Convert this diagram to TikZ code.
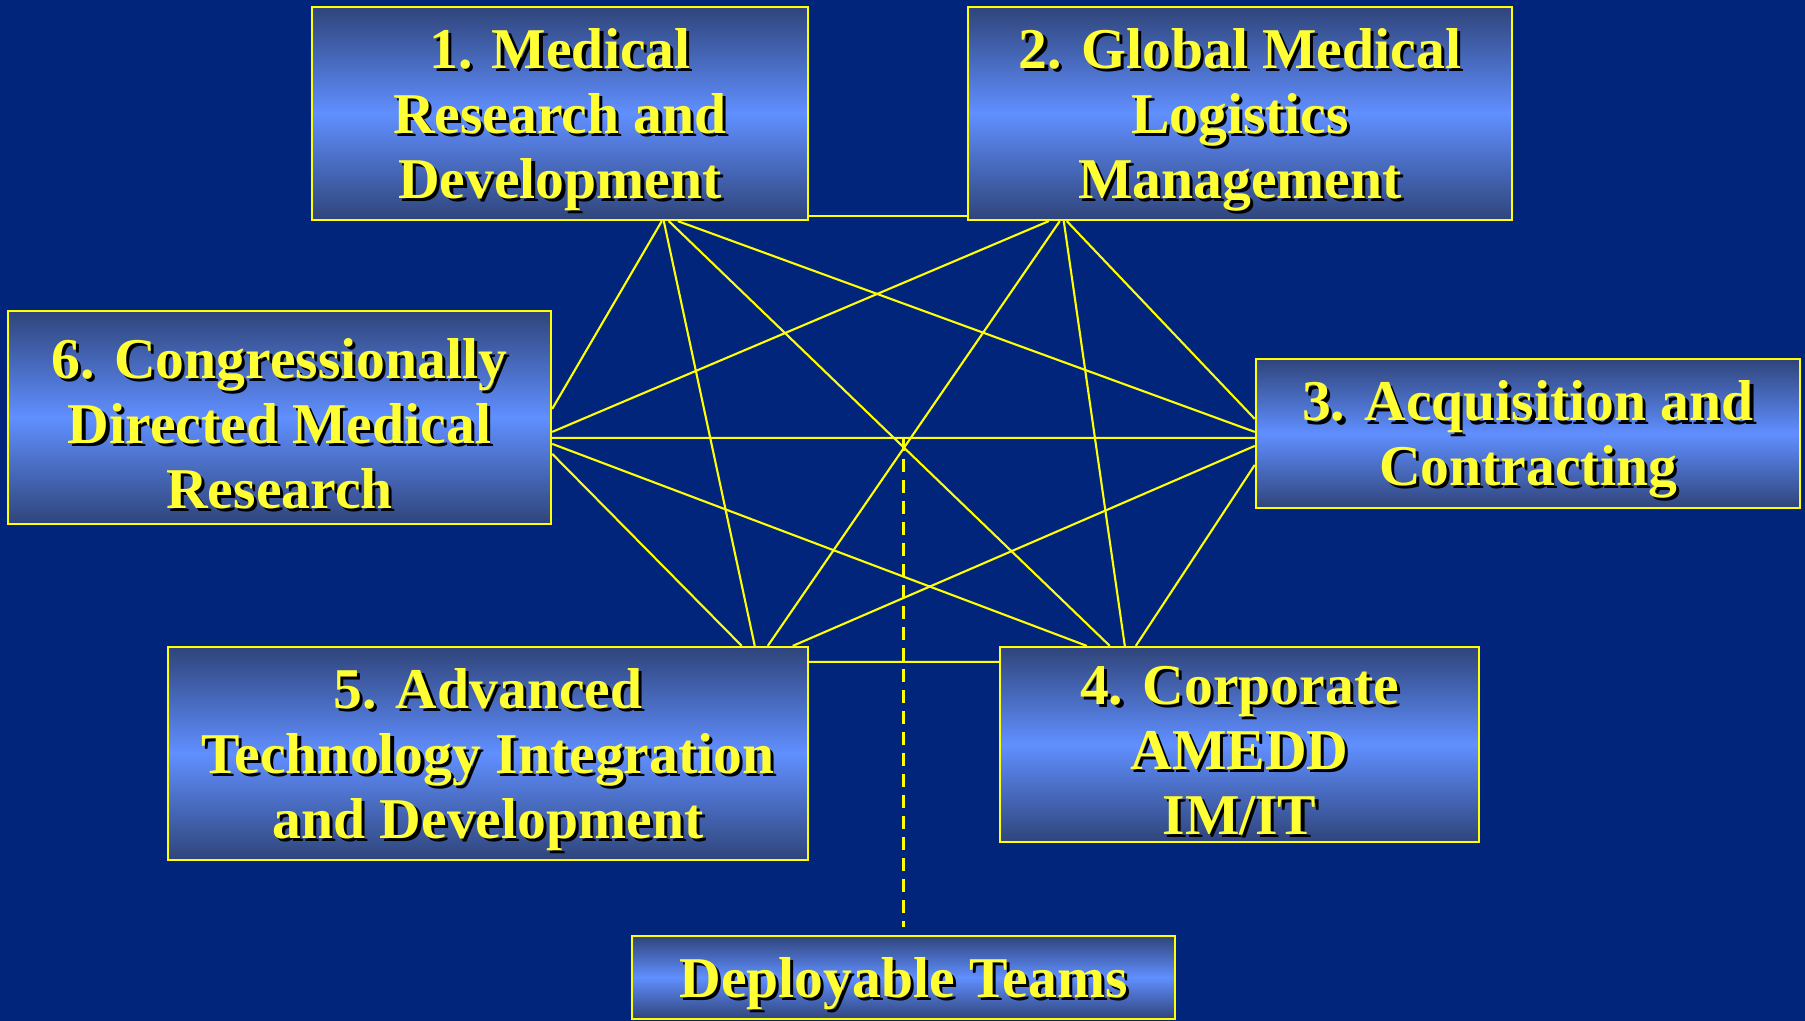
\documentclass[tikz,border=0pt]{standalone}
\usepackage{fontspec}
\setmainfont{Liberation Serif}
\usetikzlibrary{calc}

\definecolor{navybg}{RGB}{0,37,122}
\definecolor{boxdark}{RGB}{47,68,122}
\definecolor{boxlight}{RGB}{96,143,255}
\definecolor{linkyellow}{RGB}{255,255,0}
\definecolor{textyellow}{RGB}{255,255,51}

\newcommand\dropshd[1]{\raisebox{-2.2pt}[\height][\depth]{\rlap{\kern0.9pt\raisebox{-0.9pt}{\color{black}#1}}#1}}

\begin{document}
\begin{tikzpicture}[x=0.01cm,y=-0.01cm,
		area/.style={draw=linkyellow,line width=0.6pt,top color=boxdark,bottom color=boxdark,middle color=boxlight,
			text=textyellow,font=\bfseries\fontsize{16.4}{18.4}\selectfont,align=center,inner sep=0pt},
		link/.style={draw=linkyellow,line width=0.6pt},
		teamlink/.style={draw=linkyellow,line width=0.6pt,dash pattern=on 0.13cm off 0.08cm}]
		\fill[navybg] (0,0) rectangle (1805,1021);
		\draw (560,113.5) node [area,minimum width=4.96cm,minimum height=2.13cm] (b1) {\dropshd{1. Medical}\\\dropshd{Research and}\\\dropshd{Development}};
		\draw (1240,113.5) node [area,minimum width=5.44cm,minimum height=2.13cm] (b2) {\dropshd{2. Global Medical}\\\dropshd{Logistics}\\\dropshd{Management}};
		\draw (1528,433.5) node [area,minimum width=5.44cm,minimum height=1.49cm] (b3) {\dropshd{3. Acquisition and}\\\dropshd{Contracting}};
		\draw (1239.5,744.5) node [area,minimum width=4.79cm,minimum height=1.95cm] (b4) {\dropshd{4. Corporate}\\\dropshd{AMEDD}\\\dropshd{IM/IT}};
		\draw (488,753.5) node [area,minimum width=6.40cm,minimum height=2.13cm] (b5) {\dropshd{5. Advanced}\\\dropshd{Technology Integration}\\\dropshd{and Development}};
		\draw (279.5,417.5) node [area,minimum width=5.43cm,minimum height=2.13cm] (b6) {\dropshd{6. Congressionally}\\\dropshd{Directed Medical}\\\dropshd{Research}};
		\draw (903.5,977.5) node [area,minimum width=5.43cm,minimum height=0.83cm] (teams) {\dropshd{Deployable Teams}};
		\path[link]
			($(b1.south east)+(0,-5)$) edge ($(b2.south west)+(0,-5)$)
			($(b1.south west)+(351,0)$) edge ($(b6.north east)+(0,99)$)
			($(b1.south west)+(353,0)$) edge ($(b5.north west)+(588,0)$)
			($(b1.south west)+(358,0)$) edge ($(b4.north west)+(111,0)$)
			($(b1.south west)+(367,0)$) edge ($(b3.north west)+(0,74)$)
			($(b2.south west)+(82,0)$) edge ($(b6.north east)+(0,122)$)
			($(b2.south west)+(93,0)$) edge ($(b5.north west)+(601,0)$)
			($(b2.south west)+(97,0)$) edge ($(b4.north west)+(126,0)$)
			($(b2.south west)+(100,0)$) edge ($(b3.north west)+(0,61)$)
			($(b6.north east)+(0,128)$) edge ($(b3.north west)+(0,80)$)
			($(b6.north east)+(0,134)$) edge ($(b4.north west)+(88,0)$)
			($(b6.north east)+(0,144)$) edge ($(b5.north west)+(575,0)$)
			($(b3.north west)+(0,88)$) edge ($(b5.north west)+(626,0)$)
			($(b3.north west)+(0,107)$) edge ($(b4.north west)+(137,0)$)
			($(b5.north east)+(0,16)$) edge ($(b4.north west)+(0,16)$);
		\path (teams.north) ++(0,-497) coordinate (hub);
		\draw[teamlink] (hub) -- ($(teams.north)+(0,-8)$);
	\end{tikzpicture}
\end{document}
